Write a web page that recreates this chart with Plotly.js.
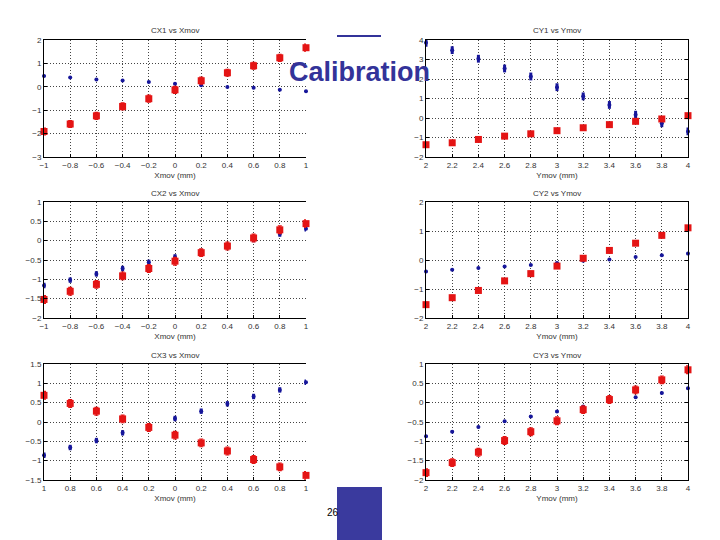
<!DOCTYPE html>
<html><head><meta charset="utf-8">
<script src="https://cdn.plot.ly/plotly-3.0.1.min.js"></script>
<style>html,body{margin:0;padding:0;background:#fff}#c{width:720px;height:540px}</style>
</head><body><div id="c"></div>
<script>
// positions (mm)
const xmov = [-1,-0.8,-0.6,-0.4,-0.2,0,0.2,0.4,0.6,0.8,1];
const ymov = [2,2.2,2.4,2.6,2.8,3,3.2,3.4,3.6,3.8,4];

// CX1 vs Xmov
const cx1Blue = [0.46,0.40,0.31,0.27,0.21,0.13,0.07,-0.01,-0.04,-0.13,-0.19];
const cx1Red  = [-1.91,-1.59,-1.24,-0.84,-0.51,-0.13,0.26,0.60,0.90,1.24,1.67];
// CY1 vs Ymov
const cy1Blue = [3.86,3.48,3.04,2.54,2.13,1.58,1.11,0.67,0.17,-0.27,-0.69];
const cy1Red  = [-1.37,-1.27,-1.10,-0.93,-0.81,-0.65,-0.50,-0.34,-0.17,-0.05,0.12];
// CX2 vs Xmov
const cx2Blue = [-1.16,-1.02,-0.86,-0.72,-0.56,-0.42,-0.28,-0.13,0.03,0.17,0.31];
const cx2Red  = [-1.52,-1.31,-1.13,-0.91,-0.72,-0.53,-0.31,-0.14,0.07,0.28,0.44];
// CY2 vs Ymov
const cy2Blue = [-0.40,-0.34,-0.28,-0.22,-0.17,-0.10,-0.03,0.02,0.10,0.16,0.22];
const cy2Red  = [-1.54,-1.30,-1.05,-0.72,-0.47,-0.21,0.06,0.33,0.58,0.85,1.11];
// CX3 vs Xmov
const cx3Blue = [-0.86,-0.66,-0.48,-0.28,-0.11,0.09,0.28,0.47,0.66,0.83,1.03];
const cx3Red  = [0.69,0.48,0.28,0.08,-0.14,-0.34,-0.54,-0.75,-0.97,-1.16,-1.38];
// CY3 vs Ymov
const cy3Blue = [-0.87,-0.75,-0.63,-0.48,-0.36,-0.23,-0.10,0.02,0.14,0.25,0.37];
const cy3Red  = [-1.81,-1.55,-1.28,-0.98,-0.75,-0.47,-0.18,0.08,0.33,0.59,0.85];

// estimated error bar half-heights [blue, red]
const cx1Err = [0.03, 0.15], cy1Err = [0.2, 0.08];
const cx2Err = [0.07, 0.1],  cy2Err = [0.03, 0.08];
const cx3Err = [0.07, 0.1],  cy3Err = [0.03, 0.1];

const titles = ['CX1 vs Xmov','CY1 vs Ymov','CX2 vs Xmov','CY2 vs Ymov','CX3 vs Xmov','CY3 vs Ymov'];
const xLabels = ['Xmov (mm)','Ymov (mm)'];
const cx3TickText = ['1','0.8','0.6','0.4','0.2','0','0.2','0.4','0.6','0.8','1'];

const BLUE = '#16169a', RED = '#e41414';
const W = 720, H = 540;
const colPx = [[44,306],[426,688]];
const rowPx = [[40,157],[202,318],[364,480]];

const panels = [
  {x: xmov, b: cx1Blue, r: cx1Red, e: cx1Err, yr: [-3,2], dt: 1, col: 0, row: 0},
  {x: ymov, b: cy1Blue, r: cy1Red, e: cy1Err, yr: [-2,4], dt: 1, col: 1, row: 0},
  {x: xmov, b: cx2Blue, r: cx2Red, e: cx2Err, yr: [-2,1], dt: 0.5, col: 0, row: 1},
  {x: ymov, b: cy2Blue, r: cy2Red, e: cy2Err, yr: [-2,2], dt: 1, col: 1, row: 1},
  {x: xmov, b: cx3Blue, r: cx3Red, e: cx3Err, yr: [-1.5,1.5], dt: 0.5, col: 0, row: 2, tt: cx3TickText},
  {x: ymov, b: cy3Blue, r: cy3Red, e: cy3Err, yr: [-2,1], dt: 0.5, col: 1, row: 2},
];

const data = [];
const layout = {
  width: W, height: H, margin: {l:0,r:0,t:0,b:0},
  paper_bgcolor: '#fff', plot_bgcolor: '#fff', showlegend: false,
  font: {family: 'Liberation Sans, Arial, sans-serif', size: 8, color: '#222'},
  annotations: [], shapes: []
};

panels.forEach((p, i) => {
  const n = i + 1;
  const xa = n === 1 ? 'x' : 'x' + n, ya = n === 1 ? 'y' : 'y' + n;
  const xk = n === 1 ? 'xaxis' : 'xaxis' + n, yk = n === 1 ? 'yaxis' : 'yaxis' + n;
  const cp = colPx[p.col], rp = rowPx[p.row];
  const xr = [p.x[0], p.x[p.x.length-1]];
  layout[xk] = {
    domain: [cp[0]/W, cp[1]/W], anchor: ya, range: xr,
    tickmode: 'array', tickvals: p.x, ticktext: p.tt,
    ticks: 'inside', ticklen: 3, tickcolor: '#000',
    showline: true, linecolor: '#000', linewidth: 1, mirror: true,
    showgrid: true, gridcolor: '#444', griddash: '1px,2px', gridwidth: 1, zeroline: false,
    tickfont: {size: 8, color: '#333'},
    title: {text: xLabels[p.col], font: {size: 8, color: '#333'}, standoff: 3}
  };
  layout[yk] = {
    domain: [1 - rp[1]/H, 1 - rp[0]/H], anchor: xa, range: p.yr, dtick: p.dt,
    ticks: 'inside', ticklen: 3, tickcolor: '#000',
    showline: true, linecolor: '#000', linewidth: 1, mirror: p.col === 1 ? 'ticks' : false,
    showgrid: true, gridcolor: '#444', griddash: '1px,2px', gridwidth: 1, zeroline: false,
    tickfont: {size: 8, color: '#333'}
  };
  data.push({
    type: 'scatter', mode: 'markers', x: p.x, y: p.b, xaxis: xa, yaxis: ya,
    marker: {color: BLUE, size: 4, symbol: 'circle'},
    error_y: {type: 'constant', value: p.e[0], color: BLUE, thickness: 3, width: 0},
    cliponaxis: false
  });
  data.push({
    type: 'scatter', mode: 'markers', x: p.x, y: p.r, xaxis: xa, yaxis: ya,
    marker: {color: RED, size: 7, symbol: 'square'},
    error_y: {type: 'constant', value: p.e[1], color: RED, thickness: 1.2, width: 2},
    cliponaxis: false
  });
  layout.annotations.push({
    xref: 'paper', yref: 'paper', x: (cp[0]+cp[1])/2/W, y: 1 - (rp[0]-9)/H,
    xanchor: 'center', yanchor: 'middle',
    text: titles[i], showarrow: false, font: {size: 8, color: '#333'}
  });
});

// slide decorations
layout.annotations.push({
  xref: 'paper', yref: 'paper', x: 359/W, y: 1 - 72/H, xanchor: 'center', yanchor: 'middle',
  text: '<b>Calibration</b>', showarrow: false,
  font: {family: 'Liberation Sans, Arial, sans-serif', size: 27, color: '#333399'}
});
layout.annotations.push({
  xref: 'paper', yref: 'paper', x: 333/W, y: 1 - 512/H, xanchor: 'center', yanchor: 'middle',
  text: '26', showarrow: false, font: {size: 10, color: '#000'}
});
layout.shapes.push({type: 'line', xref: 'paper', yref: 'paper', x0: 337/W, x1: 381/W, y0: 1-36/H, y1: 1-36/H,
  line: {color: '#333399', width: 2}});
layout.shapes.push({type: 'rect', xref: 'paper', yref: 'paper', x0: 337/W, x1: 382/W, y0: 0, y1: 1-487/H,
  fillcolor: '#3a3a9e', line: {width: 0}, layer: 'above'});

Plotly.newPlot('c', data, layout, {displayModeBar: false, staticPlot: true});
</script></body></html>
